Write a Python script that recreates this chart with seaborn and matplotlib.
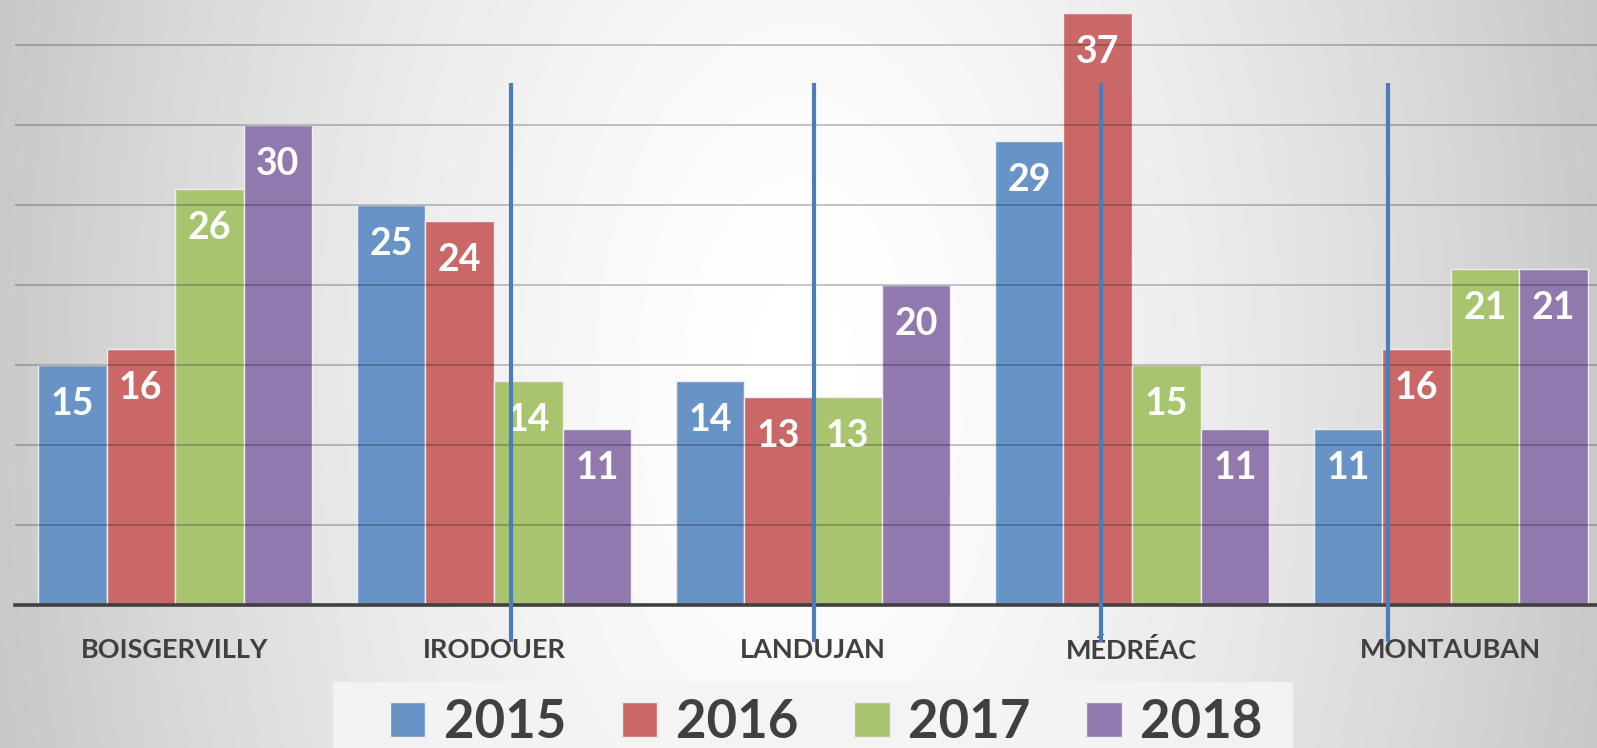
import numpy as np
import pandas as pd
import matplotlib
matplotlib.use("Agg")
import matplotlib.pyplot as plt
from matplotlib.patches import Rectangle
import seaborn as sns

communes = ["BOISGERVILLY", "IRODOUER", "LANDUJAN", "MÉDRÉAC", "MONTAUBAN"]
years = ["2015", "2016", "2017", "2018"]
v2015 = [15, 25, 14, 29, 11]
v2016 = [16, 24, 13, 37, 16]
v2017 = [26, 14, 13, 15, 21]
v2018 = [30, 11, 20, 11, 21]
colors = ["#6893c6", "#c96867", "#a8c46e", "#9179ae"]

# stray vertical connector lines sitting over the chart (x in category units)
line_x = [1.053, 2.003, 2.903, 3.803]
line_top, line_bottom = 32.6, -2.3

rows = []
for yr, vals in zip(years, [v2015, v2016, v2017, v2018]):
    for c, v in zip(communes, vals):
        rows.append({"commune": c, "year": yr, "value": v})
df = pd.DataFrame(rows)

sns.set_theme(style="white")
plt.rcParams["font.family"] = ["Lato", "DejaVu Sans"]

W, H = 1597, 748
fig = plt.figure(figsize=(W / 100, H / 100), dpi=100)

# soft radial grey background, white near top-centre, grey at the sides
bg = fig.add_axes([0, 0, 1, 1], zorder=-5)
yy, xx = np.mgrid[0:H, 0:W]
r = np.sqrt(((xx - 800) / 800.0) ** 2 + ((yy - 380) / 1400.0) ** 2)
grad = np.clip(1 - 0.21 * r ** 1.5, 0.76, 1)
bg.imshow(grad, cmap="gray", vmin=0, vmax=1, extent=[0, 1, 0, 1], aspect="auto")
bg.axis("off")

ax = fig.add_axes([15 / W, 143 / H, 1 - 15 / W, 605 / H])
ax.patch.set_alpha(0)
sns.barplot(data=df, x="commune", y="value", hue="year", palette=colors,
            width=0.86, saturation=1, errorbar=None, edgecolor="#eeeeee",
            linewidth=1, ax=ax)

ax.set_xlim(-0.502, 4.458)
ax.set_ylim(0, 37.81)
ax.set_yticks(range(5, 40, 5))
ax.tick_params(axis="y", length=0, labelleft=False)
ax.yaxis.grid(True, color="black", alpha=0.22, lw=1.4)
ax.xaxis.grid(False)
ax.set_axisbelow(False)
for s in ["left", "top", "right"]:
    ax.spines[s].set_visible(False)
ax.spines["bottom"].set_color("#404040")
ax.spines["bottom"].set_linewidth(2.6)
ax.set_xlabel("")
ax.set_ylabel("")
ax.tick_params(axis="x", length=0, pad=24, labelsize=19.5, labelcolor="#404040")
for lab in ax.get_xticklabels():
    lab.set_fontweight("bold")

for cont in ax.containers:
    for bar in cont:
        h = bar.get_height()
        ax.text(bar.get_x() + bar.get_width() / 2, h - 2.44, f"{h:.0f}",
                ha="center", va="center", color="white", fontsize=27,
                fontweight="bold", zorder=3)

for x in line_x:
    ax.plot([x, x], [line_bottom, line_top], color="#4a7ebb", lw=3,
            solid_capstyle="butt", clip_on=False, zorder=4)

# legend panel behind the entries
fig.patches.append(Rectangle((333 / W, 0), 960 / W, 1 - 682 / H,
                             transform=fig.transFigure, facecolor="#f4f4f4",
                             alpha=0.9, edgecolor="none", zorder=-1))

handles, labels = ax.get_legend_handles_labels()
ax.legend_.remove()
fig.legend(handles, labels, loc="upper center", bbox_to_anchor=(826 / W, 1 - 682 / H),
           borderaxespad=0, ncol=4, frameon=False,
           prop={"family": ["Lato"], "weight": "bold", "size": 38},
           labelcolor="#404040", handlelength=0.68, handleheight=0.66,
           handletextpad=0.35, columnspacing=1.05, borderpad=0.3)

fig.savefig("out.png", dpi=100)
